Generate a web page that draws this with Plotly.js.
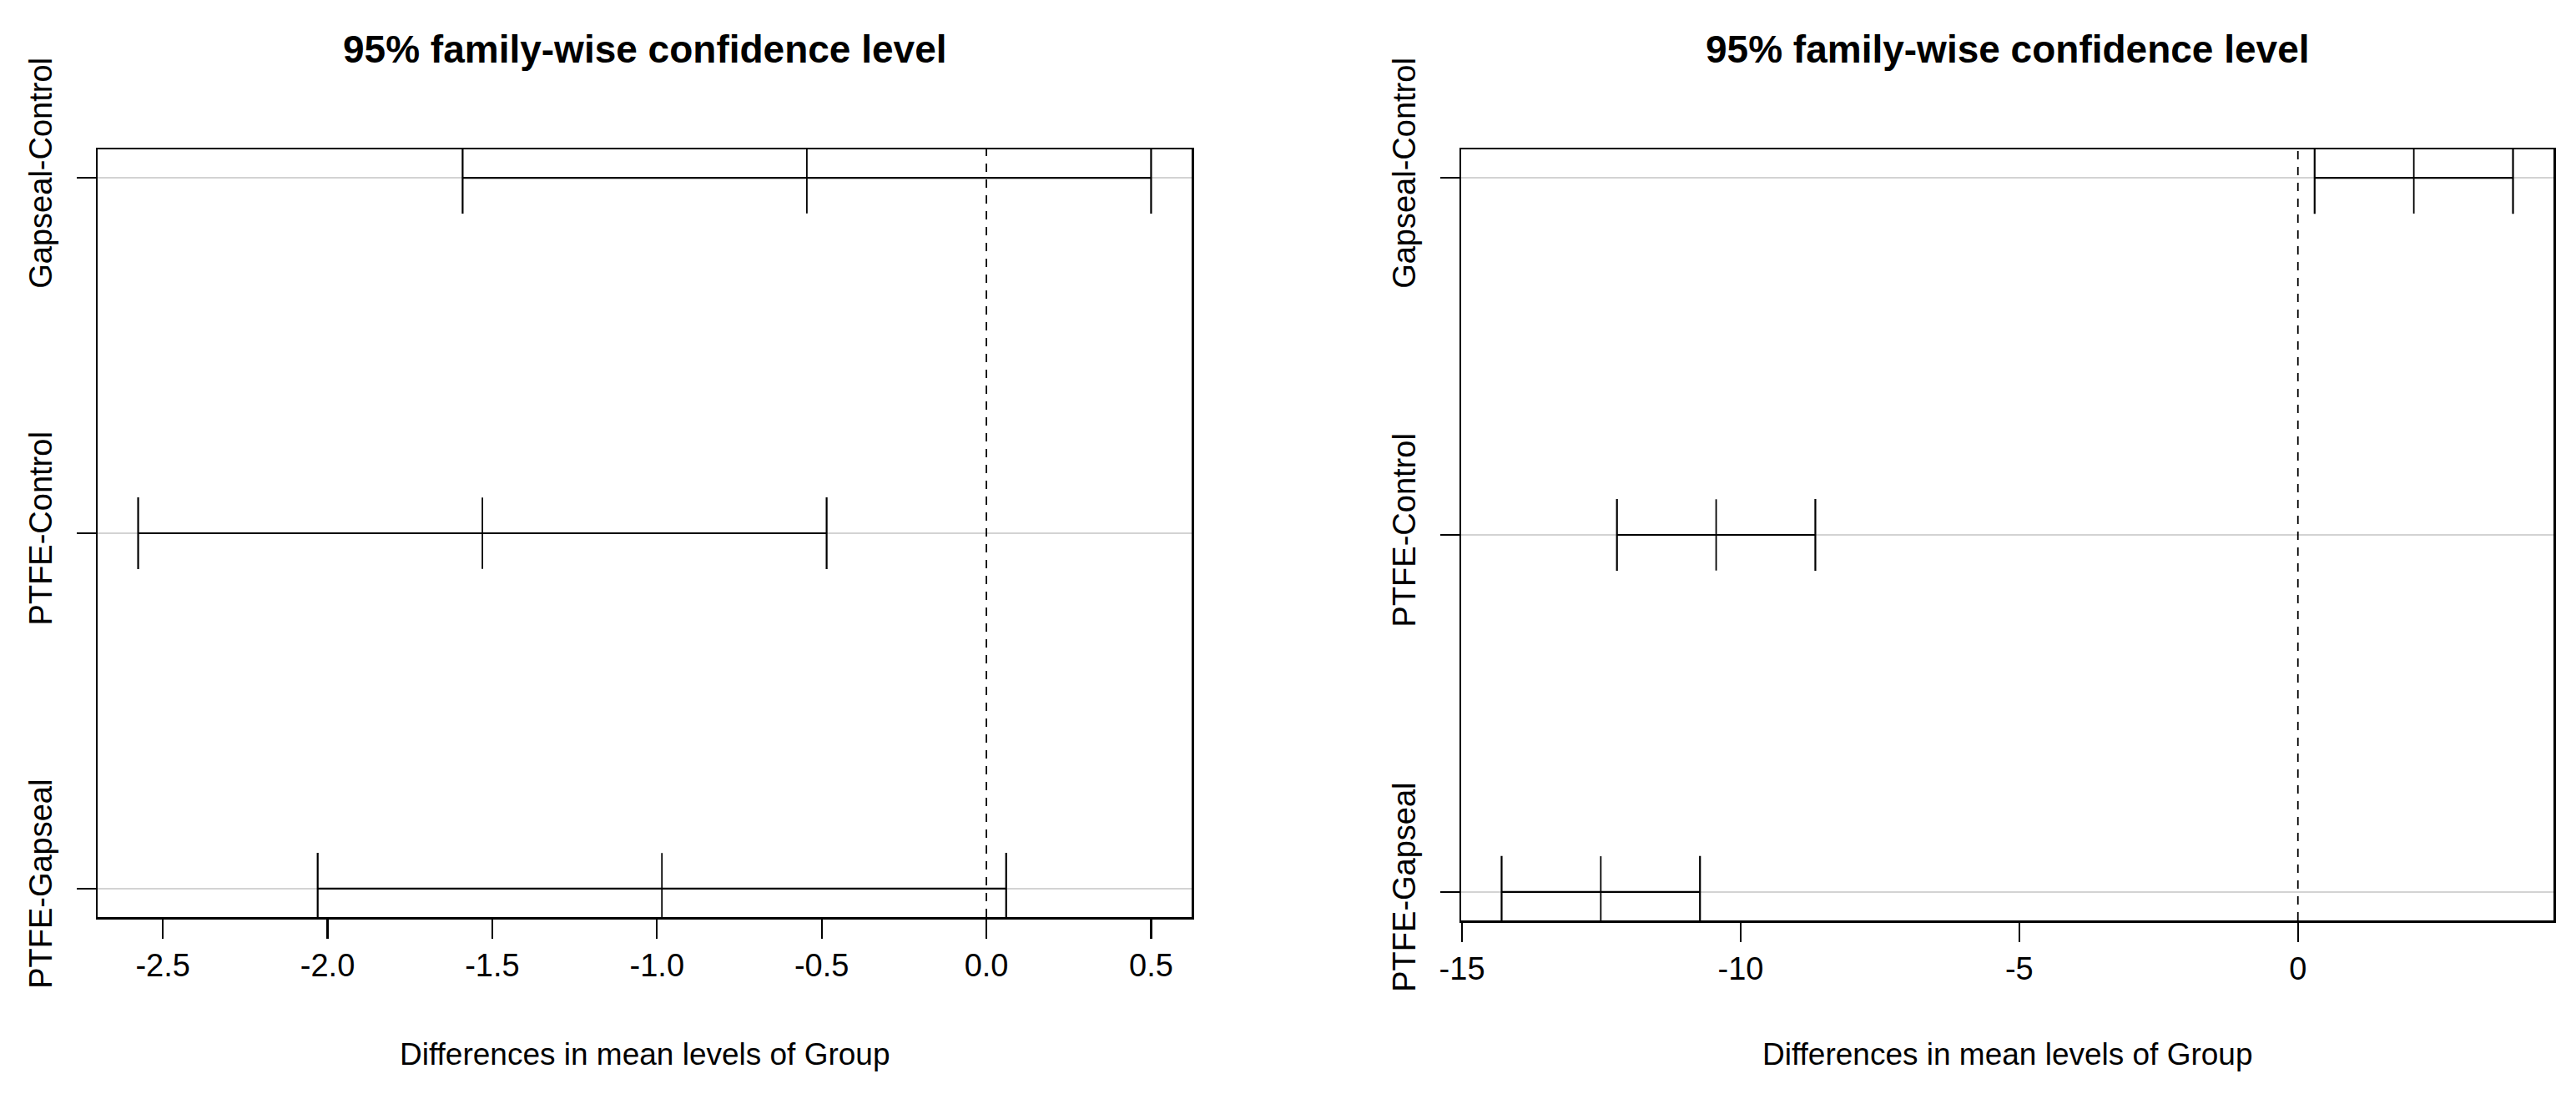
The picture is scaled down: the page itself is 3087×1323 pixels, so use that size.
<!DOCTYPE html>
<html>
<head>
<meta charset="utf-8">
<script src="https://cdn.plot.ly/plotly-3.0.1.min.js"></script>
<style>
  html, body { margin: 0; padding: 0; background: #ffffff; }
  #chart { width: 3087px; height: 1323px; }
</style>
</head>
<body>
<div id="chart"></div>
<script>
// ---- Data ----
const comparisons = ["Gapseal-Control", "PTFE-Control", "PTFE-Gapseal"];
const rowOrder = ["PTFE-Gapseal", "PTFE-Control", "Gapseal-Control"]; // bottom to top

// Left panel
const diff1 = [-0.545, -1.53, -0.985];
const lwr1  = [-1.59, -2.575, -2.03];
const upr1  = [0.50, -0.485, 0.06];
const tickVals1 = [-2.5, -2.0, -1.5, -1.0, -0.5, 0.0, 0.5];
const tickText1 = ["-2.5", "-2.0", "-1.5", "-1.0", "-0.5", "0.0", "0.5"];

// Right panel
const diff2 = [2.08, -10.44, -12.51];
const lwr2  = [0.30, -12.22, -14.29];
const upr2  = [3.86, -8.66, -10.73];
const tickVals2 = [-15, -10, -5, 0];
const tickText2 = ["-15", "-10", "-5", "0"];

const titleText = "95% family-wise confidence level";
const xTitleText = "Differences in mean levels of Group";

// ---- Helpers ----
const FONT = "Liberation Sans, Arial, Helvetica, sans-serif";

function rangeOf(lwr, upr) {
  const lo = Math.min(0, ...lwr), hi = Math.max(0, ...upr);
  const ext = (hi - lo) * 0.04;
  return [lo - ext, hi + ext];
}

function ciTrace(diff, lwr, upr, xa, ya) {
  return {
    type: "scatter",
    mode: "markers",
    x: diff,
    y: comparisons,
    xaxis: xa,
    yaxis: ya,
    showlegend: false,
    hoverinfo: "skip",
    marker: { symbol: "line-ns-open", size: 61, color: "#000", line: { color: "#000", width: 1.8 } },
    error_x: {
      type: "data",
      symmetric: false,
      array: upr.map((u, i) => u - diff[i]),
      arrayminus: lwr.map((l, i) => diff[i] - l),
      color: "#000",
      thickness: 2.2,
      width: 43
    }
  };
}

function xAxis(domain, range, vals, text, anchor) {
  return {
    domain: domain, range: range, anchor: anchor,
    showline: true, mirror: true, linecolor: "#000", linewidth: 2.5,
    ticks: "outside", ticklen: 23, tickwidth: 2.2, tickcolor: "#000",
    tickmode: "array", tickvals: vals, ticktext: text,
    tickfont: { family: FONT, size: 38, color: "#000" },
    showgrid: false, zeroline: false, fixedrange: true
  };
}

function yAxis(domain, anchor) {
  return {
    domain: domain, anchor: anchor,
    type: "category", categoryorder: "array", categoryarray: rowOrder,
    range: [-0.08, 2.08],
    showline: true, mirror: true, linecolor: "#000", linewidth: 2.5,
    ticks: "outside", ticklen: 23, tickwidth: 2.2, tickcolor: "#000",
    tickangle: -90, ticklabelstandoff: 14,
    tickfont: { family: FONT, size: 38, color: "#000" },
    showgrid: true, gridcolor: "#d3d3d3", gridwidth: 2.5,
    zeroline: false, fixedrange: true
  };
}

const W = 3087, H = 1323;
const xd1 = [117 / W, 1428 / W], xd2 = [1751 / W, 3060 / W];
const yd1 = [1 - 1099 / H, 1 - 179 / H], yd2 = [1 - 1103 / H, 1 - 179 / H];

const data = [
  ciTrace(diff1, lwr1, upr1, "x", "y"),
  ciTrace(diff2, lwr2, upr2, "x2", "y2")
];

function zeroLine(xref, yref) {
  return {
    type: "line", xref: xref, yref: yref + " domain",
    x0: 0, x1: 0, y0: 0, y1: 1,
    line: { color: "#000", width: 1.8, dash: "10px,9px" },
    layer: "above"
  };
}

function textAnn(text, xc, yc, size, bold) {
  return {
    xref: "paper", yref: "paper", x: xc, y: yc,
    xanchor: "center", yanchor: "middle", showarrow: false,
    text: bold ? "<b>" + text + "</b>" : text,
    font: { family: FONT, size: size, color: "#000" }
  };
}

const layout = {
  width: W, height: H,
  margin: { l: 0, r: 0, t: 0, b: 0, pad: 0 },
  paper_bgcolor: "#fff", plot_bgcolor: "#fff",
  showlegend: false,
  xaxis: xAxis(xd1, rangeOf(lwr1, upr1), tickVals1, tickText1, "y"),
  yaxis: yAxis(yd1, "x"),
  xaxis2: xAxis(xd2, rangeOf(lwr2, upr2), tickVals2, tickText2, "y2"),
  yaxis2: yAxis(yd2, "x2"),
  shapes: [zeroLine("x", "y"), zeroLine("x2", "y2")],
  annotations: [
    textAnn(titleText, (xd1[0] + xd1[1]) / 2, 1 - 59 / H, 46, true),
    textAnn(titleText, (xd2[0] + xd2[1]) / 2, 1 - 59 / H, 46, true),
    textAnn(xTitleText, (xd1[0] + xd1[1]) / 2, 1 - 1263 / H, 37, false),
    textAnn(xTitleText, (xd2[0] + xd2[1]) / 2, 1 - 1263 / H, 37, false)
  ]
};

Plotly.newPlot("chart", data, layout, { staticPlot: true, displayModeBar: false });
</script>
</body>
</html>
